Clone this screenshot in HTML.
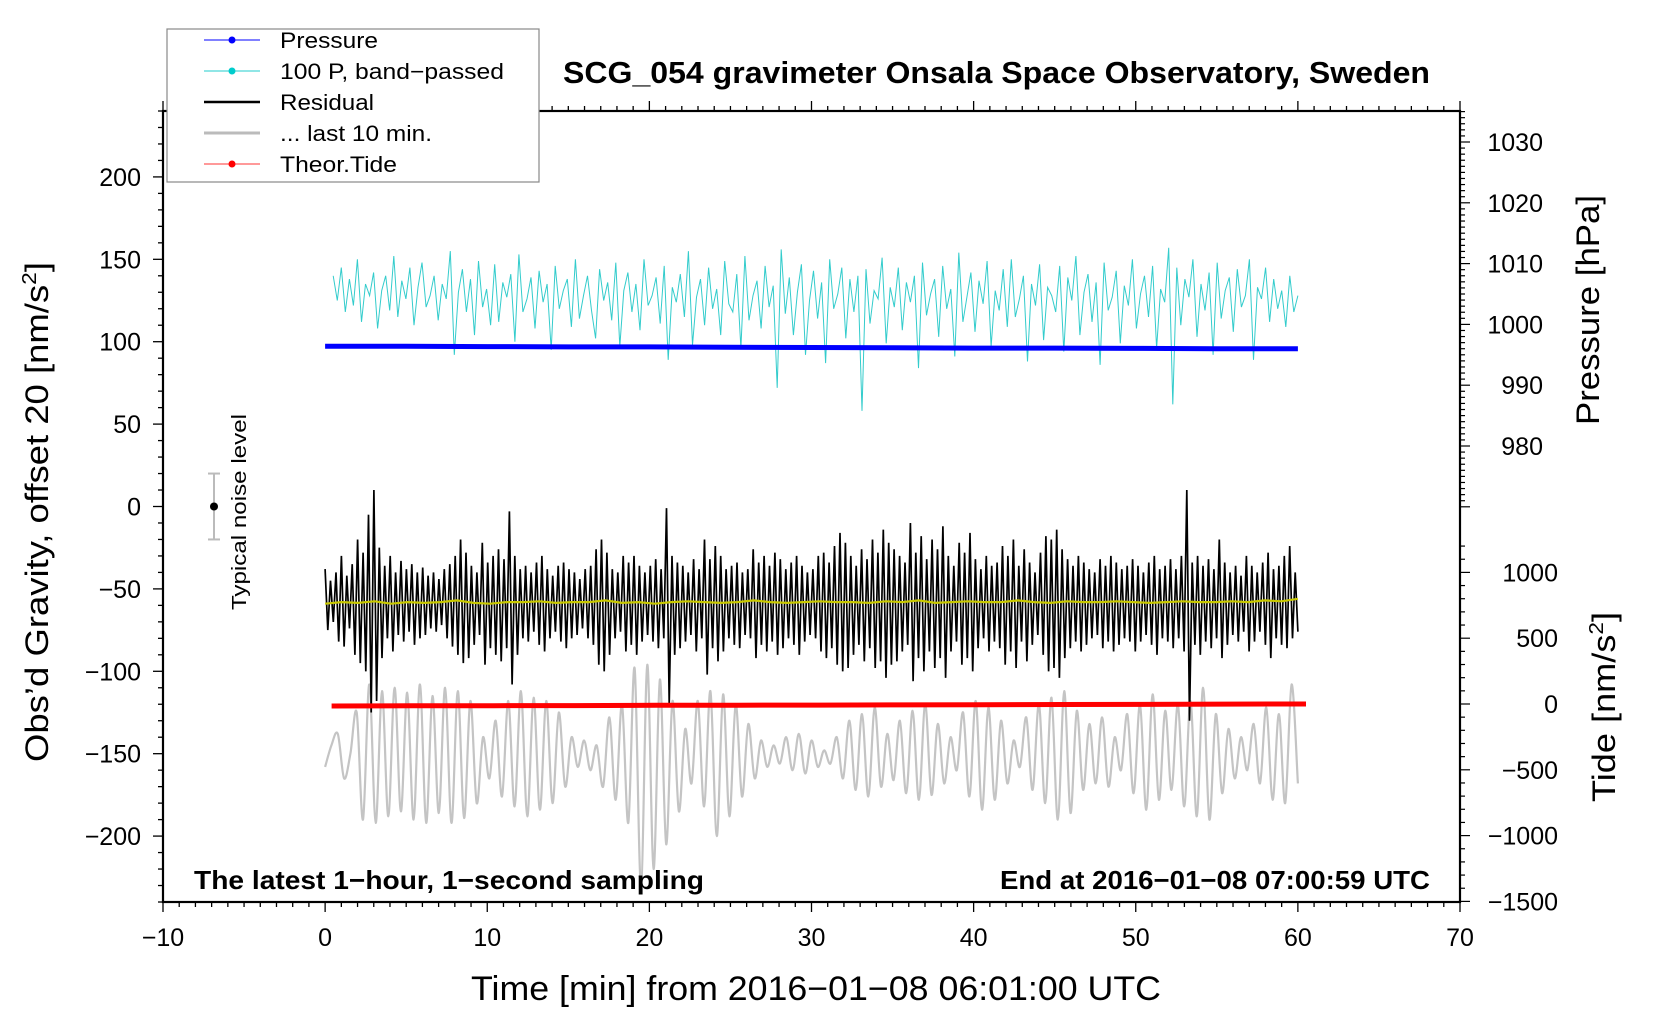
<!DOCTYPE html>
<html><head><meta charset="utf-8"><style>
html,body{margin:0;padding:0;background:#fff;}
svg{display:block;font-family:"Liberation Sans",sans-serif;}
</style></head><body>
<svg id="chart" width="1660" height="1020" viewBox="0 0 1660 1020" xmlns="http://www.w3.org/2000/svg">
<rect x="0" y="0" width="1660" height="1020" fill="#fff"/>
<g id="series"></g>
<g id="axes"></g>
<text x="563" y="83" font-size="31" font-weight="bold" textLength="867" lengthAdjust="spacingAndGlyphs">SCG_054 gravimeter Onsala Space Observatory, Sweden</text>
<text x="194" y="889" font-size="26" font-weight="bold" textLength="510" lengthAdjust="spacingAndGlyphs">The latest 1−hour, 1−second sampling</text>
<text x="1446" y="889" font-size="26" font-weight="bold" text-anchor="end" textLength="430" lengthAdjust="spacingAndGlyphs" transform="translate(-16,0)">End at 2016−01−08 07:00:59 UTC</text>
<text transform="translate(48,512) rotate(-90)" font-size="32" text-anchor="middle" textLength="500" lengthAdjust="spacingAndGlyphs">Obs’d Gravity, offset 20 [nm/s<tspan font-size="20" dy="-12">2</tspan><tspan dy="12">]</tspan></text>
<text transform="translate(1599,310) rotate(-90)" font-size="32" text-anchor="middle" textLength="230" lengthAdjust="spacingAndGlyphs">Pressure [hPa]</text>
<text transform="translate(1615,707) rotate(-90)" font-size="32" text-anchor="middle" textLength="190" lengthAdjust="spacingAndGlyphs">Tide [nm/s<tspan font-size="20" dy="-12">2</tspan><tspan dy="12">]</tspan></text>
<text x="816" y="1000" font-size="34" text-anchor="middle" textLength="690" lengthAdjust="spacingAndGlyphs">Time [min] from 2016−01−08 06:01:00 UTC</text>
<text transform="translate(246,512) rotate(-90)" font-size="20" text-anchor="middle" textLength="196" lengthAdjust="spacingAndGlyphs">Typical noise level</text>
<g>
<rect x="167" y="29" width="372" height="153" fill="#fff" stroke="#888" stroke-width="1.2"/>
<g><line x1="204" y1="40" x2="260" y2="40" stroke="#00f" stroke-width="1"/><circle cx="232" cy="40" r="3.5" fill="#00f"/><text x="280" y="48" font-size="22" textLength="98" lengthAdjust="spacingAndGlyphs">Pressure</text></g>
<g><line x1="204" y1="71" x2="260" y2="71" stroke="#2cc" stroke-width="1"/><circle cx="232" cy="71" r="3.5" fill="#0cc"/><text x="280" y="79" font-size="22" textLength="224" lengthAdjust="spacingAndGlyphs">100 P, band−passed</text></g>
<g><line x1="204" y1="102" x2="260" y2="102" stroke="#000" stroke-width="2.5"/><text x="280" y="110" font-size="22" textLength="94" lengthAdjust="spacingAndGlyphs">Residual</text></g>
<g><line x1="204" y1="133" x2="260" y2="133" stroke="#bbb" stroke-width="3"/><text x="280" y="141" font-size="22" textLength="152" lengthAdjust="spacingAndGlyphs">... last 10 min.</text></g>
<g><line x1="204" y1="164" x2="260" y2="164" stroke="#f33" stroke-width="1"/><circle cx="232" cy="164" r="3.5" fill="#f00"/><text x="280" y="172" font-size="22" textLength="117" lengthAdjust="spacingAndGlyphs">Theor.Tide</text></g>
</g>
</svg>
<script>
const xTicks = [-10,0,10,20,30,40,50,60,70];
const gravTicks = [200,150,100,50,0,-50,-100,-150,-200];
const presTicks = [1030,1020,1010,1000,990,980];
const tideTicks = [1000,500,0,-500,-1000,-1500];
const pressure = [996.4,996.4,996.35,996.3,996.3,996.25,996.2,996.15,996.1,996.1,996.05,996.0,996.0];
const tide = [-15,-14,-13,-12,-10,-9,-8,-7,-5,-4,-3,-1,0];
const yellow = [-59,-58,-58.5,-57.5,-59,-58,-58.5,-58,-57,-58.5,-59,-58,-58,-57.5,-58.5,-58,-58,-57,-58.5,-58,-59,-58,-57.5,-58,-58.5,-58,-57,-58,-58.5,-58,-57.5,-58,-58,-58.5,-57.5,-58,-57,-58.5,-58,-57.5,-58,-58,-57,-58,-58.5,-57.5,-58,-58,-57.5,-58,-58.5,-58,-57.5,-58,-58,-57.5,-58,-57,-57.5,-56];
const cyan = [
140,125,145,118,138,122,150,112,135,128,142,108,131,140,119,152,115,137,126,145,
110,133,148,121,128,140,113,135,126,155,92,130,144,118,138,104,149,121,132,110,
147,112,136,127,141,100,153,118,126,139,108,143,124,135,95,146,120,131,138,109,
150,114,128,140,119,102,144,125,136,113,148,97,131,142,118,135,107,150,122,128,
139,111,146,89,133,124,141,115,155,98,127,138,110,145,120,132,104,149,123,118,
141,96,152,113,128,137,108,146,121,134,72,156,117,139,104,130,147,92,125,143,
114,136,87,150,120,129,145,102,138,118,140,58,144,111,131,126,151,99,133,121,
145,107,136,124,140,84,148,116,129,138,103,146,120,132,91,154,112,127,142,106,
137,123,149,97,131,119,144,109,150,115,126,140,88,135,122,147,101,133,128,118,
146,94,139,125,152,104,130,141,112,136,86,148,119,127,143,99,134,122,150,108,
129,140,115,146,96,132,124,157,62,145,110,138,127,150,103,135,119,142,92,148,
114,131,139,106,144,121,128,150,89,133,126,145,112,138,120,131,109,140,118,128];
const residual = [
-38,-75,-45,-70,-40,-82,-30,-85,-42,-74,-35,-90,-20,-95,-28,-100,-5,-125,10,-118,
-25,-92,-36,-80,-30,-88,-40,-78,-33,-82,-38,-76,-35,-84,-40,-80,-37,-78,-42,-74,
-40,-76,-44,-72,-38,-80,-35,-85,-30,-90,-20,-95,-28,-92,-36,-84,-40,-78,-22,-96,
-34,-86,-30,-90,-26,-94,-32,-86,-3,-108,-30,-90,-38,-80,-36,-82,-40,-76,-34,-84,
-30,-88,-38,-80,-42,-76,-36,-82,-34,-86,-38,-80,-40,-78,-44,-74,-38,-80,-36,-84,
-26,-96,-20,-100,-28,-90,-38,-80,-40,-76,-30,-88,-34,-84,-30,-90,-36,-82,-40,-78,
-36,-82,-32,-86,-38,-80,-1,-120,-30,-90,-34,-86,-36,-82,-40,-78,-32,-88,-38,-80,
-20,-102,-32,-86,-24,-94,-30,-88,-38,-80,-36,-84,-34,-86,-40,-78,-38,-80,-26,-92,
-34,-84,-30,-88,-36,-82,-28,-90,-32,-86,-38,-80,-34,-84,-30,-90,-36,-82,-40,-78,
-38,-80,-30,-88,-28,-92,-34,-86,-24,-96,-16,-100,-22,-98,-30,-90,-36,-84,-26,-94,
-32,-86,-20,-98,-28,-94,-14,-104,-22,-96,-26,-94,-30,-88,-34,-84,-10,-106,-28,-92,
-18,-100,-32,-88,-20,-98,-26,-92,-12,-104,-30,-88,-36,-82,-22,-96,-28,-92,-16,-100,
-32,-86,-38,-80,-30,-88,-36,-82,-34,-86,-24,-96,-30,-88,-20,-98,-36,-82,-26,-94,
-34,-84,-40,-78,-28,-90,-18,-100,-20,-98,-14,-104,-26,-92,-32,-86,-36,-82,-30,-88,
-34,-84,-38,-80,-40,-78,-32,-86,-36,-82,-30,-88,-34,-84,-38,-80,-36,-82,-32,-88,
-36,-82,-40,-78,-34,-84,-30,-90,-38,-80,-36,-82,-32,-86,-38,-80,-30,-88,10,-130,
-34,-84,-30,-90,-36,-82,-32,-86,-38,-80,-20,-92,-34,-84,-40,-78,-36,-82,-42,-76,
-30,-88,-36,-82,-40,-76,-34,-84,-28,-92,-38,-80,-36,-84,-30,-86,-24,-80,-40,-76];
const gray = [
-158,-145,-138,-165,-150,-125,-190,-108,-192,-112,-188,-110,-185,-113,-190,-108,-192,-115,-186,-110,
-192,-112,-189,-118,-180,-140,-165,-130,-176,-118,-182,-112,-188,-116,-184,-118,-180,-125,-170,-140,
-158,-142,-160,-145,-170,-128,-178,-120,-192,-98,-230,-96,-220,-105,-205,-118,-185,-135,-168,-118,
-182,-112,-200,-114,-188,-120,-176,-132,-165,-142,-158,-145,-156,-140,-160,-138,-162,-142,-158,-148,
-156,-140,-165,-130,-172,-126,-176,-122,-170,-138,-166,-130,-174,-124,-178,-120,-175,-132,-168,-140,
-160,-125,-176,-118,-184,-122,-178,-130,-168,-142,-158,-128,-172,-120,-180,-116,-190,-112,-186,-124,
-172,-132,-168,-128,-170,-140,-160,-126,-174,-120,-184,-114,-178,-124,-172,-120,-182,-118,-188,-110,
-190,-126,-174,-135,-165,-140,-160,-132,-168,-122,-178,-126,-180,-108,-168];
const XL=163, XR=1460, YT=111, YB=902;
function sx(t){return XL+(t+10)*(XR-XL)/80;}
function sg(v){return YB-(v+240)*(YB-YT)/480;}
function sp(p){return 446-(p-980)*6.08;}
function st(v){return 704-v*0.1316;}
const NS='http://www.w3.org/2000/svg';
const ser=document.getElementById('series');
const ax=document.getElementById('axes');
function mk(tag,attrs,parent){const e=document.createElementNS(NS,tag);for(const k in attrs)e.setAttribute(k,attrs[k]);parent.appendChild(e);return e;}
function xy(arr,t0,t1,f){return arr.map((v,i)=>[sx(t0+(t1-t0)*i/(arr.length-1)),f(v)]);}
function pts(arr,t0,t1,f){return xy(arr,t0,t1,f).map(q=>q[0].toFixed(1)+','+q[1].toFixed(1)).join(' ');}
function smooth(arr,t0,t1,f){const P=xy(arr,t0,t1,f);let d='M'+P[0][0].toFixed(1)+','+P[0][1].toFixed(1);
 for(let i=0;i<P.length-1;i++){const p0=P[Math.max(0,i-1)],p1=P[i],p2=P[i+1],p3=P[Math.min(P.length-1,i+2)];
  const c1=[p1[0]+(p2[0]-p0[0])/6,p1[1]+(p2[1]-p0[1])/6],c2=[p2[0]-(p3[0]-p1[0])/6,p2[1]-(p3[1]-p1[1])/6];
  d+=' C'+c1[0].toFixed(1)+','+c1[1].toFixed(1)+' '+c2[0].toFixed(1)+','+c2[1].toFixed(1)+' '+p2[0].toFixed(1)+','+p2[1].toFixed(1);}
 return d;}

let p;
p=mk('path',{d:smooth(gray,0,60,sg),fill:'none',stroke:'#c4c4c4','stroke-width':2.2},ser);


p=mk('polyline',{points:pts(cyan,0.5,60,sg),fill:'none',stroke:'#33cccc','stroke-width':1},ser);


p=mk('polyline',{points:pts(pressure,0,60,sp),fill:'none',stroke:'#0000ff','stroke-width':5},ser);


p=mk('polyline',{points:pts(residual,0,60,sg),fill:'none',stroke:'#000','stroke-width':1.7},ser);


p=mk('polyline',{points:pts(yellow,0,60,sg),fill:'none',stroke:'#c8c800','stroke-width':2.2},ser);


p=mk('polyline',{points:pts(tide,0.4,60.5,st),fill:'none',stroke:'#ff0000','stroke-width':5},ser);



p=mk('line',{x1:214,y1:sg(20),x2:214,y2:sg(-20),stroke:'#bbb','stroke-width':2},ser);


mk('line',{x1:208,y1:sg(20),x2:220,y2:sg(20),stroke:'#bbb','stroke-width':2},ser);
mk('line',{x1:208,y1:sg(-20),x2:220,y2:sg(-20),stroke:'#bbb','stroke-width':2},ser);
p=mk('circle',{cx:214,cy:sg(0),r:4,fill:'#000'},ser);



p=mk('rect',{x:XL,y:YT,width:XR-XL,height:YB-YT,fill:'none',stroke:'#000','stroke-width':2.2},ax);


for(let m=-10;m<=70;m++){const x=sx(m);const L=(m%10===0)?10:5;
 mk('line',{x1:x,y1:YB,x2:x,y2:YB+L,stroke:'#000','stroke-width':1.3},ax);
 mk('line',{x1:x,y1:YT,x2:x,y2:YT-L,stroke:'#000','stroke-width':1.3},ax);}
xTicks.forEach(v=>{const t=mk('text',{x:sx(v),y:946,'font-size':25,'text-anchor':'middle'},ax);t.textContent=String(v).replace('-','−');
 
 });
for(let v=-240;v<=240;v+=10){const y=sg(v);const L=(v%50===0)?10:5;mk('line',{x1:XL,y1:y,x2:XL-L,y2:y,stroke:'#000','stroke-width':1.3},ax);}
gravTicks.forEach(v=>{const t=mk('text',{x:141,y:sg(v)+9,'font-size':25,'text-anchor':'end'},ax);t.textContent=String(v).replace('-','−');
 
 });
for(let v=970;v<=1035;v++){const y=sp(v);if(y<YT)continue;const L=(v%10===0)?10:5;mk('line',{x1:XR,y1:y,x2:XR+L,y2:y,stroke:'#000','stroke-width':1.2},ax);}
presTicks.forEach(v=>{const t=mk('text',{x:1543,y:sp(v)+9,'font-size':25,'text-anchor':'end'},ax);t.textContent=String(v);
 
 });
for(let v=-1500;v<=1200;v+=100){const y=st(v);const L=(v%500===0)?10:5;mk('line',{x1:XR,y1:y,x2:XR+L,y2:y,stroke:'#000','stroke-width':1.2},ax);}
tideTicks.forEach(v=>{const t=mk('text',{x:1558,y:st(v)+9,'font-size':25,'text-anchor':'end'},ax);t.textContent=String(v).replace('-','−');
 
 });
</script>
</body></html>
